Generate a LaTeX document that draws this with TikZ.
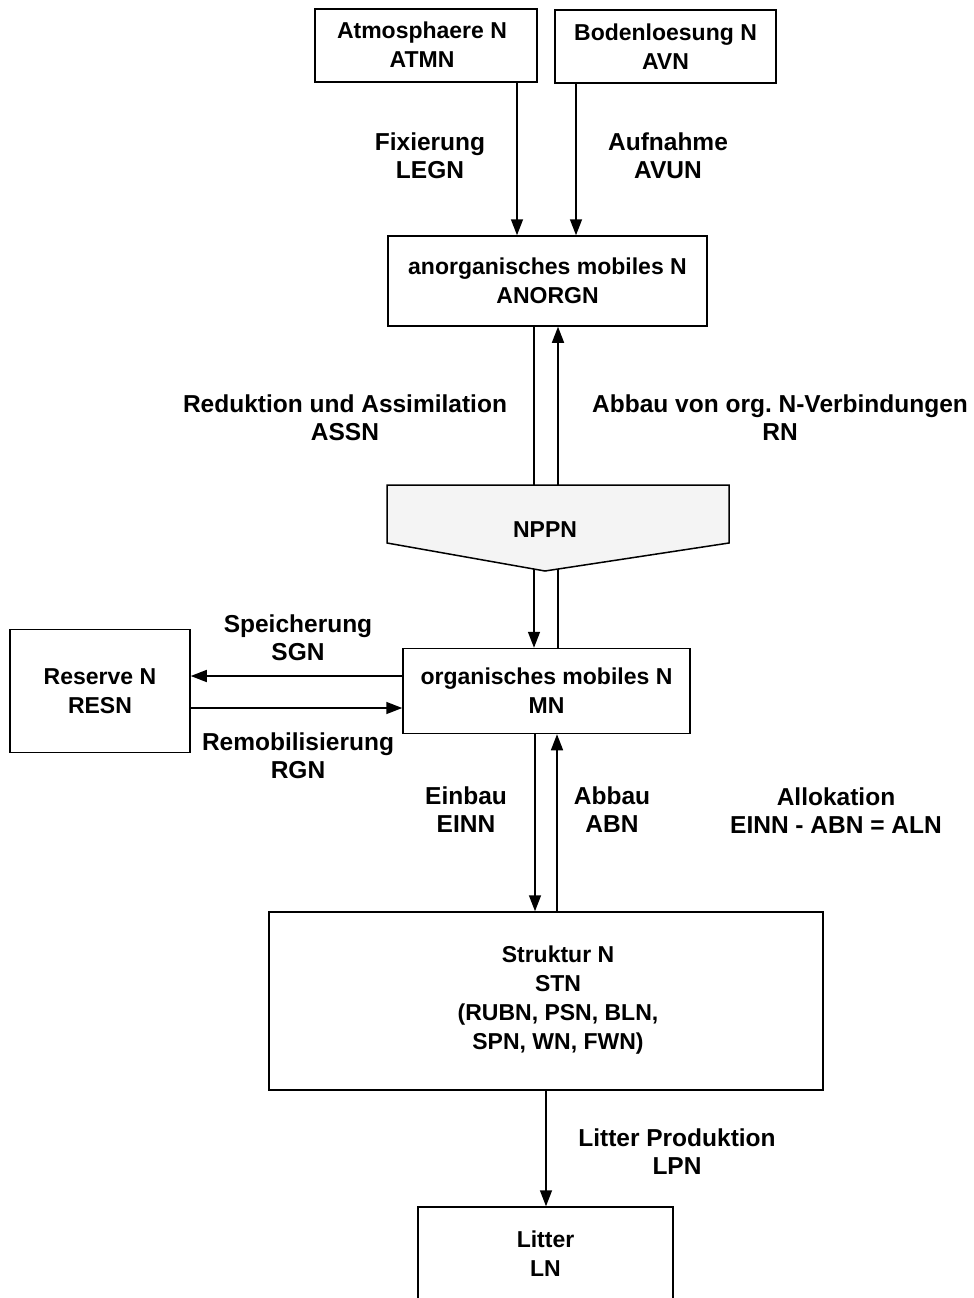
\documentclass[tikz,border=0pt]{standalone}
\usepackage{fontspec}
\setmainfont{Liberation Sans}
\usetikzlibrary{arrows.meta}
\frenchspacing
\begin{document}
\begin{tikzpicture}[x=1pt,y=-1pt,
  every node/.style={font=\fontsize{23}{29}\selectfont\bfseries, align=center},
  box/.style={draw, line width=1.5pt, inner sep=0pt},
  lbl/.style={inner sep=0pt, font=\fontsize{24.5}{28}\selectfont\bfseries},
  conn/.style={line width=1.5pt},
  arr/.style={line width=1.5pt, -{Triangle[length=16pt,width=12pt]}}]
\useasboundingbox (0,0) rectangle (974,1298);
% boxes
\node[box, minimum width=222, minimum height=73] (atm) at (426,45.5) {};
\node (atmT) at (422,45) {Atmosphaere N\\ATMN};
\node[box, minimum width=221, minimum height=73] (bod) at (665.5,46.5) {Bodenloesung N\\AVN};
\node[box, minimum width=319, minimum height=90] (anorg) at (547.5,281) {anorganisches mobiles N\\ANORGN};
\draw[line width=1.5pt, fill=gray!9] (387,485) -- (729,485) -- (729,543) -- (545,571) -- (387,543) -- cycle;
\node[inner sep=0pt] (nppn) at (545,530) {NPPN};
\coordinate (ntop) at (545,485);
\coordinate (nbl) at (534,569);
\coordinate (nbr) at (558,569);
\node[box, minimum width=287, minimum height=85] (org) at (546.5,691) {organisches mobiles N\\MN};
\node[box, minimum width=180, minimum height=123] (res) at (100,691) {Reserve N\\RESN};
\node[box, minimum width=554, minimum height=178] (str) at (546,1001) {};
\node (strT) at (558,1000) {Struktur N\\STN\\(RUBN, PSN, BLN,\\SPN, WN, FWN)};
\node[box, minimum width=255, minimum height=98] (lit) at (545.5,1256) {};
\node (litT) at (545.5,1254) {Litter\\LN};
% helper coordinates
\coordinate (x517) at (517,0);
\coordinate (x576) at (576,0);
\coordinate (xl) at (534,0);
\coordinate (xr) at (558,0);
\coordinate (xsl) at (535,0);
\coordinate (xsr) at (557,0);
\coordinate (x546) at (546,0);
\coordinate (y676) at (0,676);
\coordinate (y708) at (0,708);
% connectors
\draw[arr] (atm.south -| x517) -- (anorg.north -| x517);
\draw[arr] (bod.south -| x576) -- (anorg.north -| x576);
\draw[conn] (anorg.south -| xl) -- (ntop -| xl);
\draw[arr] (ntop -| xr) -- (anorg.south -| xr);
\draw[arr] (nbl) -- (org.north -| nbl);
\draw[conn] (org.north -| nbr) -- (nbr);
\draw[arr] (org.west |- y676) -- (res.east |- y676);
\draw[arr] (res.east |- y708) -- (org.west |- y708);
\draw[arr] (org.south -| xsl) -- (str.north -| xsl);
\draw[arr] (str.north -| xsr) -- (org.south -| xsr);
\draw[arr] (str.south -| x546) -- (lit.north -| x546);
% labels
\node[lbl] (lLEGN) at (430,156) {Fixierung\\LEGN};
\node[lbl] (lAVUN) at (668,156) {Aufnahme\\AVUN};
\node[lbl] (lASSN) at (345,418) {Reduktion und Assimilation\\ASSN};
\node[lbl] (lRN) at (780,418) {Abbau von org. N-Verbindungen\\RN};
\node[lbl] (lSGN) at (298,638) {Speicherung\\SGN};
\node[lbl] (lRGN) at (298,756) {Remobilisierung\\RGN};
\node[lbl] (lEINN) at (466,810) {Einbau\\EINN};
\node[lbl] (lABN) at (612,810) {Abbau\\ABN};
\node[lbl] (lALN) at (836,811) {Allokation\\EINN - ABN = ALN};
\node[lbl] (lLPN) at (677,1152) {Litter Produktion\\LPN};
\end{tikzpicture}
\end{document}
